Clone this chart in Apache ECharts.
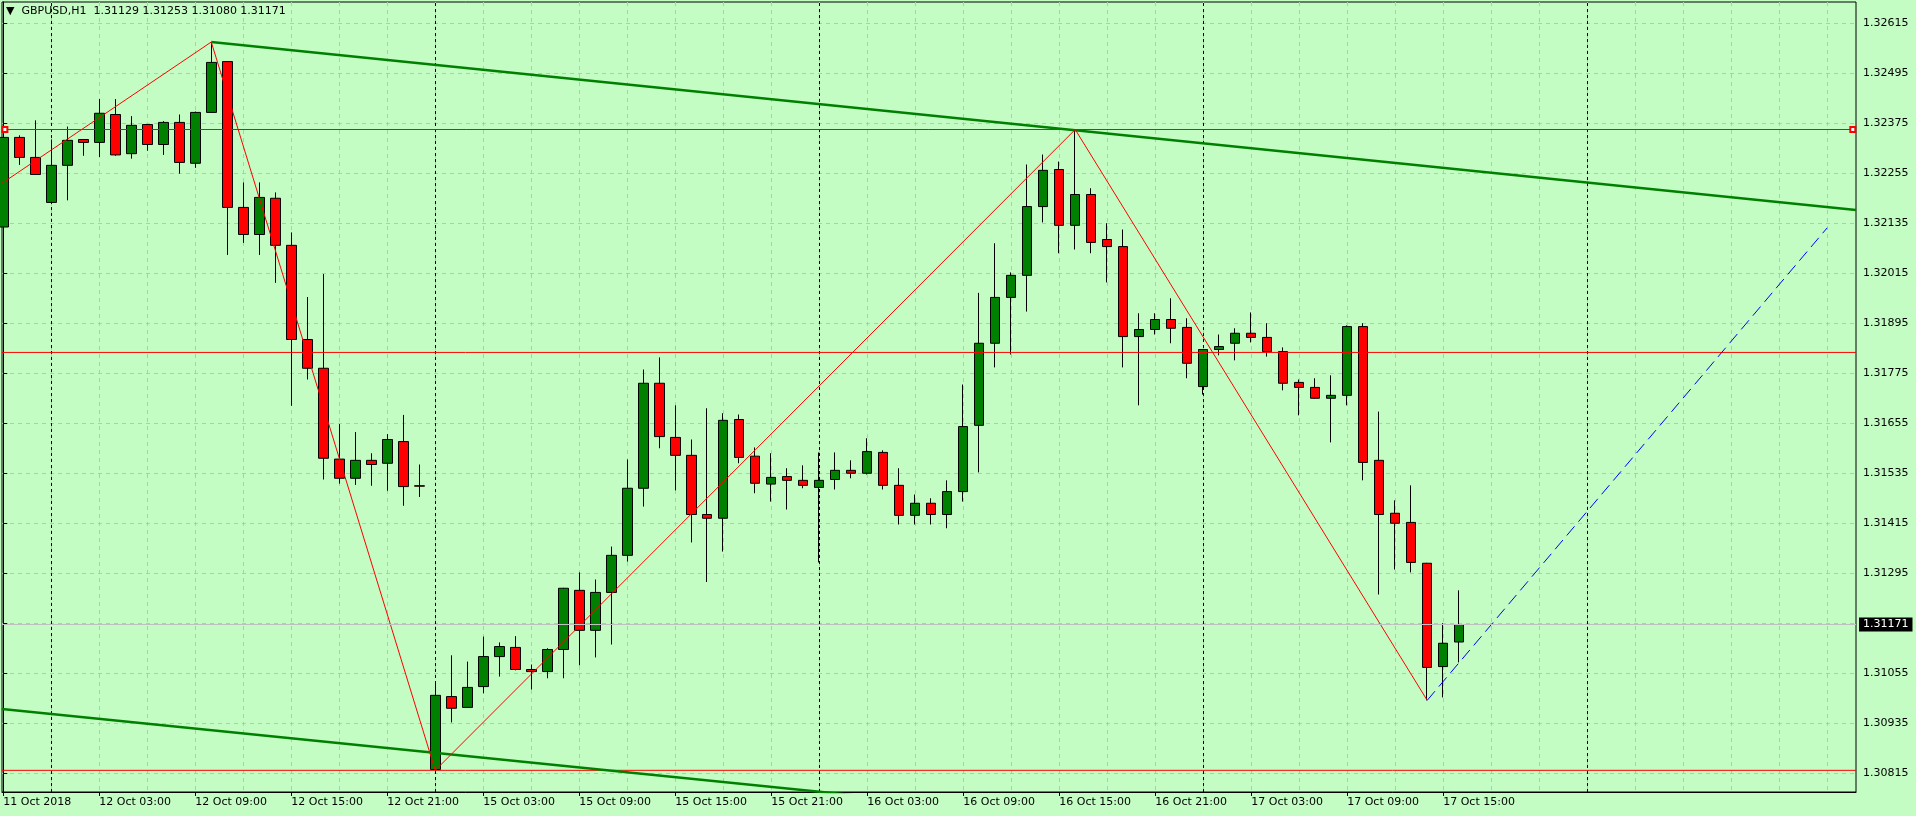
<!DOCTYPE html>
<html>
<head>
<meta charset="utf-8">
<title>GBPUSD,H1</title>
<script src="https://cdn.jsdelivr.net/npm/echarts@6/dist/echarts.min.js"></script>
<style>
  html, body { margin: 0; padding: 0; background: #c4fdc4; }
  #chart { width: 1916px; height: 816px; }
</style>
</head>
<body>
<div id="chart"></div>
<script>
// GBPUSD H1 bars, 11 Oct 21:00 .. 17 Oct 16:00 (bar index = x position)
const opens = [
  1.32125, 1.32340, 1.32292, 1.32184, 1.32273, 1.32335, 1.32328, 1.32395, 1.32301, 1.32371,
  1.32323, 1.32376, 1.32278, 1.32400, 1.32522, 1.32172, 1.32107, 1.32194, 1.32081, 1.31855,
  1.31786, 1.31568, 1.31522, 1.31565, 1.31558, 1.31610, 1.31504, 1.30823, 1.30998, 1.30972,
  1.31022, 1.31094, 1.31116, 1.31063, 1.31058, 1.31111, 1.31253, 1.31157, 1.31248, 1.31337,
  1.31498, 1.31750, 1.31620, 1.31577, 1.31435, 1.31426, 1.31663, 1.31575, 1.31508, 1.31526,
  1.31517, 1.31500, 1.31519, 1.31541, 1.31534, 1.31584, 1.31505, 1.31433, 1.31462, 1.31435,
  1.31490, 1.31649, 1.31846, 1.31956, 1.32009, 1.32174, 1.32263, 1.32129, 1.32203, 1.32095,
  1.32078, 1.31862, 1.31879, 1.31903, 1.31884, 1.31742, 1.31831, 1.31846, 1.31870, 1.31860,
  1.31826, 1.31752, 1.31740, 1.31714, 1.31721, 1.31886, 1.31565, 1.31438, 1.31416, 1.31318,
  1.31070, 1.31129
]
const highs = [
  1.32395, 1.32345, 1.32381, 1.32335, 1.32366, 1.32336, 1.32432, 1.32432, 1.32391, 1.32372,
  1.32379, 1.32395, 1.32402, 1.32569, 1.32523, 1.32232, 1.32232, 1.32208, 1.32112, 1.31957,
  1.32012, 1.31652, 1.31633, 1.31582, 1.31628, 1.31674, 1.31555, 1.31029, 1.31097, 1.31082,
  1.31142, 1.31128, 1.31143, 1.31075, 1.31114, 1.31259, 1.31296, 1.31279, 1.31358, 1.31567,
  1.31783, 1.31812, 1.31697, 1.31615, 1.31690, 1.31678, 1.31675, 1.31596, 1.31582, 1.31546,
  1.31553, 1.31584, 1.31584, 1.31565, 1.31618, 1.31589, 1.31546, 1.31483, 1.31474, 1.31517,
  1.31747, 1.31967, 1.32086, 1.32016, 1.32275, 1.32299, 1.32282, 1.32359, 1.32218, 1.32134,
  1.32119, 1.31918, 1.31918, 1.31954, 1.31906, 1.31832, 1.31867, 1.31882, 1.31920, 1.31894,
  1.31836, 1.31759, 1.31762, 1.31769, 1.31889, 1.31894, 1.31682, 1.31469, 1.31505, 1.31319,
  1.31174, 1.31253
]
const lows = [
  1.32096, 1.32274, 1.32250, 1.32183, 1.32189, 1.32296, 1.32293, 1.32296, 1.32289, 1.32308,
  1.32298, 1.32253, 1.32267, 1.32399, 1.32058, 1.32087, 1.32058, 1.31991, 1.31696, 1.31759,
  1.31519, 1.31509, 1.31506, 1.31504, 1.31492, 1.31456, 1.31477, 1.30821, 1.30936, 1.30971,
  1.31006, 1.31046, 1.31061, 1.31015, 1.31042, 1.31042, 1.31073, 1.31092, 1.31123, 1.31322,
  1.31454, 1.31594, 1.31493, 1.31368, 1.31273, 1.31346, 1.31558, 1.31486, 1.31466, 1.31447,
  1.31498, 1.31320, 1.31495, 1.31522, 1.31531, 1.31495, 1.31411, 1.31411, 1.31411, 1.31402,
  1.31466, 1.31536, 1.31788, 1.31819, 1.31922, 1.32136, 1.32062, 1.32071, 1.32062, 1.31992,
  1.31788, 1.31697, 1.31867, 1.31846, 1.31762, 1.31723, 1.31817, 1.31805, 1.31848, 1.31814,
  1.31733, 1.31673, 1.31713, 1.31608, 1.31697, 1.31517, 1.31243, 1.31303, 1.31296, 1.30989,
  1.30996, 1.31080
]
const closes = [
  1.32340, 1.32292, 1.32251, 1.32273, 1.32333, 1.32328, 1.32398, 1.32298, 1.32369, 1.32323,
  1.32376, 1.32280, 1.32400, 1.32520, 1.32172, 1.32107, 1.32196, 1.32081, 1.31855, 1.31786,
  1.31570, 1.31522, 1.31565, 1.31555, 1.31615, 1.31502, 1.31503, 1.31001, 1.30970, 1.31020,
  1.31094, 1.31118, 1.31063, 1.31058, 1.31111, 1.31258, 1.31157, 1.31248, 1.31337, 1.31498,
  1.31750, 1.31622, 1.31577, 1.31435, 1.31426, 1.31661, 1.31572, 1.31510, 1.31524, 1.31517,
  1.31505, 1.31517, 1.31541, 1.31534, 1.31586, 1.31505, 1.31433, 1.31462, 1.31435, 1.31490,
  1.31646, 1.31846, 1.31956, 1.32009, 1.32174, 1.32261, 1.32129, 1.32203, 1.32088, 1.32078,
  1.31862, 1.31879, 1.31903, 1.31882, 1.31798, 1.31831, 1.31838, 1.31870, 1.31860, 1.31826,
  1.31750, 1.31740, 1.31714, 1.31721, 1.31886, 1.31560, 1.31435, 1.31414, 1.31320, 1.31068,
  1.31126, 1.31171
]

// time scale labels, one every 6 bars
const xLabels = [
  '11 Oct 2018', '12 Oct 03:00', '12 Oct 09:00', '12 Oct 15:00', '12 Oct 21:00', '15 Oct 03:00',
  '15 Oct 09:00', '15 Oct 15:00', '15 Oct 21:00', '16 Oct 03:00', '16 Oct 09:00', '16 Oct 15:00',
  '16 Oct 21:00', '17 Oct 03:00', '17 Oct 09:00', '17 Oct 15:00'
]
const dayBreaks = [3, 27, 51, 75, 99] // bar index of 00:00
const priceTicks = [
  1.32615, 1.32495, 1.32375, 1.32255, 1.32135, 1.32015, 1.31895, 1.31775,
  1.31655, 1.31535, 1.31415, 1.31295, 1.31175, 1.31055, 1.30935, 1.30815
]

// drawn objects: [bar index, price]
const levels = [1.32359, 1.31824, 1.30821]
const channelTop = [[13, 1.32569], [115.8, 1.32166]]
const channelBottom = [[-0.08, 1.30968], [115.8, 1.30518]]
const zigzag = [[-0.08, 1.32230], [13, 1.32569], [27, 1.30821], [67, 1.32359], [89, 1.30989]]
const projection = [[89, 1.30989], [114, 1.32123]]

const X_MIN = -0.08
const X_MAX = 115.8
const Y_MIN = 1.30769
const Y_MAX = 1.32665
const FONT = 'DejaVu Sans'
const GRID_COLOR = '#c2bec6'

const chart = echarts.init(document.getElementById('chart'))

const last = opens.length - 1
const candleData = opens.map((o, i) => [i, o, closes[i], lows[i], highs[i]])
const labelIdx = xLabels.map((_, k) => k * 6)
const gridIdx = []
for (let i = 0; i * 3 <= X_MAX; i++) gridIdx.push(i * 3)

function plain(name, data, style, extra) {
  return Object.assign({
    name,
    type: 'line',
    data,
    symbol: 'none',
    silent: true,
    z: 3,
    lineStyle: style
  }, extra || {})
}

const option = {
  backgroundColor: '#c4fdc4',
  animation: false,
  title: {
    text: '▼  GBPUSD,H1  ' + [opens[last], highs[last], lows[last], closes[last]].map(v => v.toFixed(5)).join(' '),
    left: 6,
    top: 6,
    padding: 0,
    textStyle: { fontFamily: FONT, fontSize: 11, fontWeight: 'normal', color: '#000' }
  },
  grid: {
    left: 2, right: 60, top: 2, bottom: 24,
    show: true,
    borderColor: '#000',
    borderWidth: 1,
    outerBoundsMode: 'none'
  },
  xAxis: [
    {
      type: 'value',
      min: X_MIN,
      max: X_MAX,
      axisLine: { show: true, onZero: false, lineStyle: { color: '#000', width: 1 } },
      axisTick: { show: true, customValues: labelIdx, length: 4, lineStyle: { color: '#000' } },
      axisLabel: {
        customValues: labelIdx,
        formatter: v => xLabels[labelIdx.indexOf(Math.round(v))],
        align: 'left',
        margin: 5,
        color: '#000',
        fontFamily: FONT,
        fontSize: 11
      },
      splitLine: { show: false }
    },
    {
      type: 'value',
      min: X_MIN,
      max: X_MAX,
      axisLine: { show: false },
      axisTick: { show: false, customValues: gridIdx },
      axisLabel: { show: false, customValues: gridIdx },
      splitLine: { show: true, lineStyle: { color: GRID_COLOR, type: [4, 4], width: 1 } }
    }
  ],
  yAxis: {
    type: 'value',
    position: 'right',
    min: Y_MIN,
    max: Y_MAX,
    axisLine: { show: true, lineStyle: { color: '#000' } },
    axisTick: { show: true, customValues: priceTicks, length: 4, lineStyle: { color: '#000' } },
    axisLabel: {
      customValues: priceTicks,
      formatter: v => v.toFixed(5),
      margin: 7,
      color: '#000',
      fontFamily: FONT,
      fontSize: 11
    },
    splitLine: { show: true, lineStyle: { color: GRID_COLOR, type: [4, 4], width: 1 } }
  },
  series: [
    // day separators
    {
      name: 'days',
      type: 'line',
      data: [],
      silent: true,
      markLine: {
        silent: true,
        z: 1,
        symbol: 'none',
        label: { show: false },
        lineStyle: { color: '#000', type: [3, 3], width: 1 },
        data: dayBreaks.map(d => ({ xAxis: d }))
      }
    },
    {
      name: 'GBPUSD,H1',
      type: 'candlestick',
      data: candleData,
      barWidth: 10,
      z: 2,
      itemStyle: {
        color: '#008000',
        color0: '#ff0000',
        borderColor: '#000',
        borderColor0: '#000',
        borderColorDoji: '#000',
        borderWidth: 1
      },
      // bid line
      markLine: {
        silent: true,
        z: 6,
        precision: 5,
        symbol: 'none',
        lineStyle: { color: '#c0c0c0', type: 'solid', width: 1 },
        label: {
          show: true,
          position: 'end',
          distance: 3,
          formatter: p => Number(p.value).toFixed(5),
          backgroundColor: '#000',
          color: '#fff',
          padding: [2, 4, 1, 4],
          fontFamily: FONT,
          fontSize: 11
        },
        data: [{ yAxis: closes[last] }]
      }
    },
    plain('high level', [[0.1, levels[0]], [115.6, levels[0]]], { color: '#ff0000', width: 1 }, {
      symbol: 'emptyRect', symbolSize: 5, showSymbol: true, itemStyle: { color: '#ff0000', borderColor: '#ff0000' }
    }),
    plain('mid level', [[X_MIN, levels[1]], [X_MAX, levels[1]]], { color: '#ff0000', width: 1 }),
    plain('low level', [[X_MIN, levels[2]], [X_MAX, levels[2]]], { color: '#ff0000', width: 1 }),
    plain('channel top', channelTop, { color: '#008000', width: 2.5 }),
    plain('channel bottom', channelBottom, { color: '#008000', width: 2.5 }),
    plain('zigzag', zigzag, { color: '#ff0000', width: 1 }, { z: 4 }),
    plain('projection', projection, { color: '#0000ff', width: 1, type: [12, 6] }, { z: 4 })
  ]
}

chart.setOption(option)
window.addEventListener('resize', () => chart.resize())
</script>
</body>
</html>
